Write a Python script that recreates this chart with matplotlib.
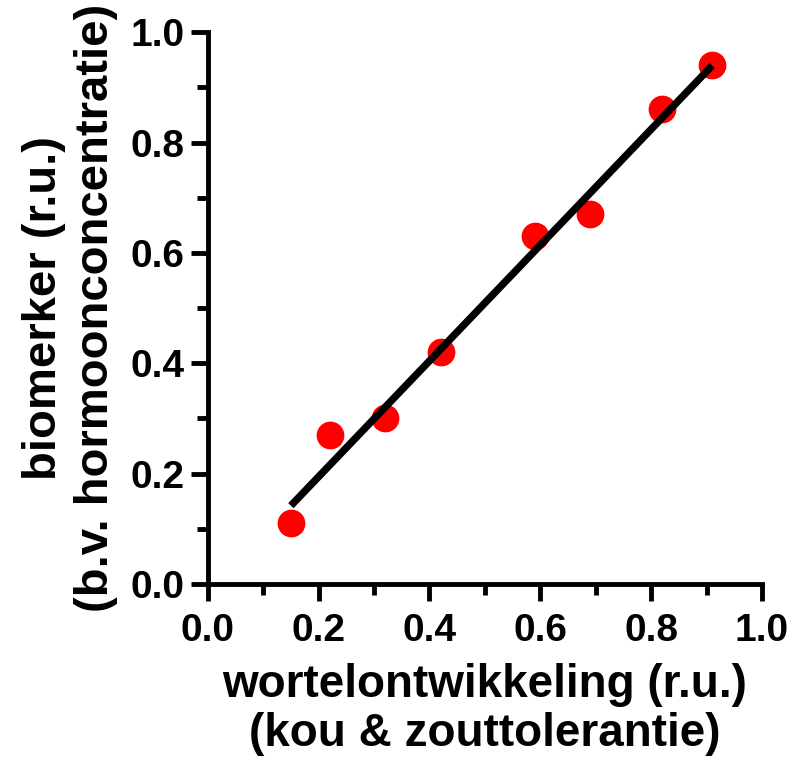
import matplotlib
matplotlib.use('Agg')
import matplotlib.pyplot as plt
import numpy as np
from matplotlib.ticker import MultipleLocator

# data
wortel = np.array([0.15, 0.22, 0.32, 0.42, 0.59, 0.69, 0.82, 0.91])
biomerker = np.array([0.11, 0.27, 0.30, 0.42, 0.63, 0.67, 0.86, 0.94])

plt.rcParams['font.family'] = ['Liberation Sans', 'DejaVu Sans']
plt.rcParams['font.weight'] = 'bold'

fig = plt.figure(figsize=(7.9, 7.68), dpi=100)
ax = fig.add_axes([0.263, 0.2396, 0.7016, 0.7185])

ax.scatter(wortel, biomerker, s=360, color='#ff0000', zorder=2, clip_on=False)

# linear fit
k, b = np.polyfit(wortel, biomerker, 1)
xf = np.array([wortel.min(), wortel.max()])
ax.plot(xf, k * xf + b, color='black', lw=5.3, zorder=3, solid_capstyle='butt')

ax.set_xlim(0, 1.0)
ax.set_ylim(0, 1.0)
ax.xaxis.set_major_locator(MultipleLocator(0.2))
ax.yaxis.set_major_locator(MultipleLocator(0.2))
ax.xaxis.set_minor_locator(MultipleLocator(0.1))
ax.yaxis.set_minor_locator(MultipleLocator(0.1))
ax.xaxis.set_major_formatter(plt.FormatStrFormatter('%.1f'))
ax.yaxis.set_major_formatter(plt.FormatStrFormatter('%.1f'))

for s in ['top', 'right']:
    ax.spines[s].set_visible(False)
for s in ['left', 'bottom']:
    ax.spines[s].set_linewidth(3.5)

ax.tick_params(which='major', length=12, width=3.5, labelsize=28)
ax.tick_params(axis='x', which='major', pad=9)
ax.tick_params(axis='y', which='major', pad=5)
ax.tick_params(which='minor', length=8, width=3.5)

ax.set_xlabel('wortelontwikkeling (r.u.)\n(kou & zouttolerantie)', fontsize=33,
              fontweight='bold', labelpad=10, linespacing=1.15)
ax.set_ylabel('biomerker (r.u.)\n(b.v. hormoonconcentratie)', fontsize=34,
              fontweight='bold', labelpad=9, linespacing=1.22)

fig.savefig('out.png', dpi=100)
